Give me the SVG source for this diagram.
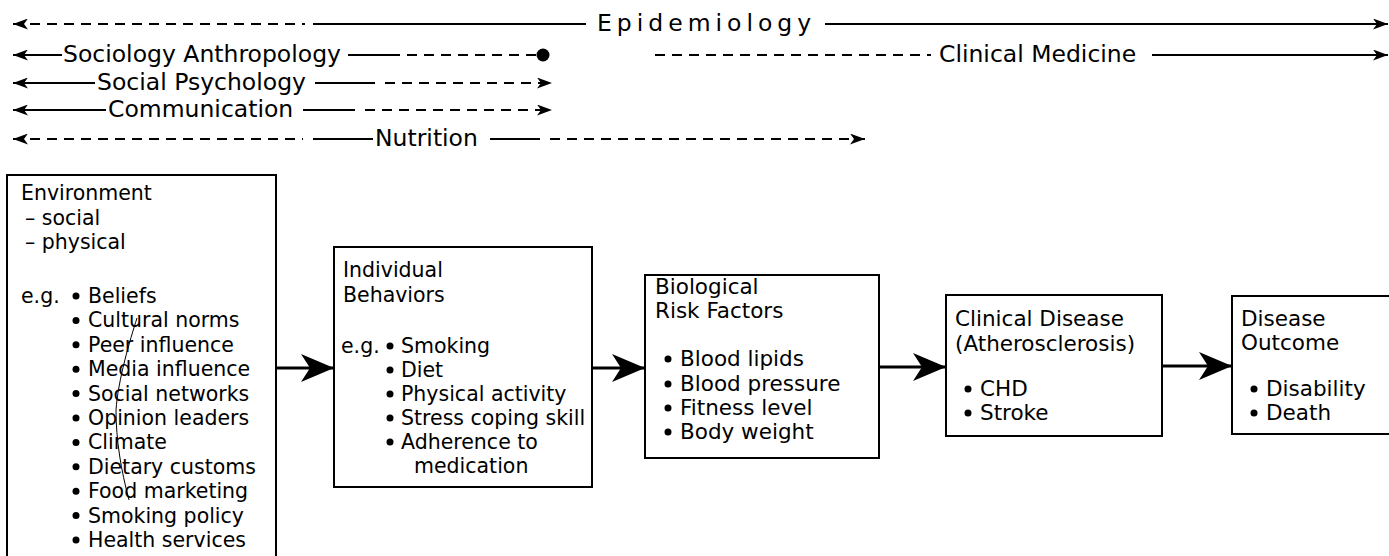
<svg xmlns="http://www.w3.org/2000/svg" width="1389" height="556" viewBox="0 0 1389 556">
<defs>
<style>
.t{font-family:"DejaVu Sans",sans-serif;font-size:23.5px;fill:#000}
.b{font-family:"DejaVu Sans",sans-serif;font-size:20.5px;fill:#000}
.c{font-family:"DejaVu Sans",sans-serif;font-size:21.5px;fill:#000}
.sol{stroke:#000;stroke-width:2.2;fill:none}
.dash{stroke:#000;stroke-width:2.2;fill:none;stroke-dasharray:10 7}
.box{fill:#fff;stroke:#000;stroke-width:2}
.con{stroke:#000;stroke-width:3;fill:none;marker-end:url(#big)}
.bul{fill:#000}
</style>
<marker id="sm" viewBox="0 0 15 11" refX="15" refY="5.5" markerWidth="15" markerHeight="11" markerUnits="userSpaceOnUse" orient="auto-start-reverse">
<path d="M0,0 L15,5.5 L0,11 L4,5.5 Z" fill="#000"/>
</marker>
<marker id="big" viewBox="0 0 33 28" refX="33" refY="14" markerWidth="33" markerHeight="28" markerUnits="userSpaceOnUse" orient="auto">
<path d="M0,0 L33,14 L0,28 L9,14 Z" fill="#000"/>
</marker>
</defs>
<rect width="1389" height="556" fill="#fff"/>

<g id="discipline-lines">
<path class="dash" d="M13 24 H305" marker-start="url(#sm)"/>
<path class="sol" d="M313 24 H586"/>
<text class="t" x="597" y="31" letter-spacing="5">Epidemiology</text>
<path class="sol" d="M825 24 H1388" marker-end="url(#sm)"/>

<path class="sol" d="M13 55 H62" marker-start="url(#sm)"/>
<text class="t" x="63" y="62">Sociology Anthropology</text>
<path class="sol" d="M348 55 H400"/>
<path class="dash" d="M407 55 H538"/>
<circle cx="543" cy="55" r="6.5" fill="#000"/>

<path class="dash" d="M655 55 H931"/>
<text class="t" x="939" y="62">Clinical Medicine</text>
<path class="sol" d="M1152 55 H1388" marker-end="url(#sm)"/>

<path class="sol" d="M13 83 H95" marker-start="url(#sm)"/>
<text class="t" x="97" y="90">Social Psychology</text>
<path class="sol" d="M315 83 H375"/>
<path class="dash" d="M385 83 H552" marker-end="url(#sm)"/>

<path class="sol" d="M13 110 H106" marker-start="url(#sm)"/>
<text class="t" x="108" y="117">Communication</text>
<path class="sol" d="M303 110 H355"/>
<path class="dash" d="M365 110 H552" marker-end="url(#sm)"/>

<path class="dash" d="M13 139 H303" marker-start="url(#sm)"/>
<path class="sol" d="M313 139 H373"/>
<text class="t" x="375" y="146">Nutrition</text>
<path class="sol" d="M490 139 H540"/>
<path class="dash" d="M550 139 H865" marker-end="url(#sm)"/>
</g>

<g id="connectors">
<path class="con" d="M276 368 H334"/>
<path class="con" d="M592 368 H645"/>
<path class="con" d="M879 367 H946"/>
<path class="con" d="M1162 366 H1232"/>
</g>

<g id="environment">
<rect class="box" x="7" y="175" width="269" height="400"/>
<text class="b" x="21" y="200">Environment</text>
<text class="b" x="25" y="225">– social</text>
<text class="b" x="25" y="249">– physical</text>
<text class="b" x="21" y="303">e.g.</text>
<g class="bul">
<circle cx="76" cy="296" r="3.5"/><circle cx="76" cy="320.4" r="3.5"/><circle cx="76" cy="344.8" r="3.5"/><circle cx="76" cy="369.2" r="3.5"/><circle cx="76" cy="393.6" r="3.5"/><circle cx="76" cy="418" r="3.5"/><circle cx="76" cy="442.4" r="3.5"/><circle cx="76" cy="466.8" r="3.5"/><circle cx="76" cy="491.2" r="3.5"/><circle cx="76" cy="515.6" r="3.5"/><circle cx="76" cy="540" r="3.5"/>
</g>
<text class="b" x="88" y="303">Beliefs</text>
<text class="b" x="88" y="327.4">Cultural norms</text>
<text class="b" x="88" y="351.8">Peer influence</text>
<text class="b" x="88" y="376.2">Media influence</text>
<text class="b" x="88" y="400.6">Social networks</text>
<text class="b" x="88" y="425">Opinion leaders</text>
<text class="b" x="88" y="449.4">Climate</text>
<text class="b" x="88" y="473.8">Dietary customs</text>
<text class="b" x="88" y="498.2">Food marketing</text>
<text class="b" x="88" y="522.6">Smoking policy</text>
<text class="b" x="88" y="547">Health services</text>
<path d="M137 318 C130 340 118 380 116 410 C116 440 121 470 129 500" stroke="#000" stroke-width="1" fill="none"/>
</g>

<g id="individual-behaviors">
<rect class="box" x="334" y="247" width="258" height="240"/>
<text class="b" x="343" y="277">Individual</text>
<text class="b" x="343" y="302">Behaviors</text>
<text class="b" x="341" y="353">e.g.</text>
<g class="bul">
<circle cx="390" cy="346" r="3.5"/><circle cx="390" cy="370" r="3.5"/><circle cx="390" cy="394" r="3.5"/><circle cx="390" cy="418" r="3.5"/><circle cx="390" cy="442" r="3.5"/>
</g>
<text class="b" x="401" y="353">Smoking</text>
<text class="b" x="401" y="377">Diet</text>
<text class="b" x="401" y="401">Physical activity</text>
<text class="b" x="401" y="425">Stress coping skill</text>
<text class="b" x="401" y="449">Adherence to</text>
<text class="b" x="414" y="473">medication</text>
</g>

<g id="biological-risk-factors">
<rect class="box" x="645" y="275" width="234" height="183"/>
<text class="c" x="655" y="294">Biological</text>
<text class="c" x="655" y="318">Risk Factors</text>
<g class="bul">
<circle cx="668" cy="359" r="3.5"/><circle cx="668" cy="384" r="3.5"/><circle cx="668" cy="408" r="3.5"/><circle cx="668" cy="432" r="3.5"/>
</g>
<text class="c" x="680" y="366">Blood lipids</text>
<text class="c" x="680" y="391">Blood pressure</text>
<text class="c" x="680" y="415">Fitness level</text>
<text class="c" x="680" y="439">Body weight</text>
</g>

<g id="clinical-disease">
<rect class="box" x="946" y="295" width="216" height="141"/>
<text class="c" x="955" y="326">Clinical Disease</text>
<text class="c" x="955" y="351">(Atherosclerosis)</text>
<g class="bul"><circle cx="968" cy="389" r="3.5"/><circle cx="968" cy="413" r="3.5"/></g>
<text class="c" x="980" y="396">CHD</text>
<text class="c" x="980" y="420">Stroke</text>
</g>

<g id="disease-outcome">
<rect class="box" x="1232" y="296" width="170" height="138"/>
<text class="c" x="1241" y="326">Disease</text>
<text class="c" x="1241" y="350">Outcome</text>
<g class="bul"><circle cx="1254" cy="389" r="3.5"/><circle cx="1254" cy="413" r="3.5"/></g>
<text class="c" x="1266" y="396">Disability</text>
<text class="c" x="1266" y="420">Death</text>
</g>
</svg>
